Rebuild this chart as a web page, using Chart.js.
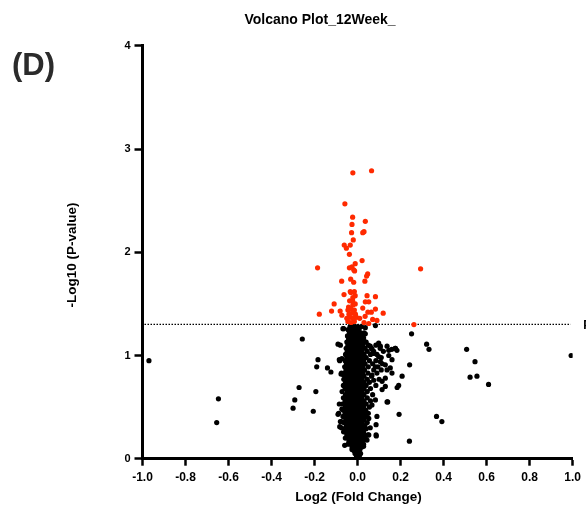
<!DOCTYPE html>
<html lang="en">
<head>
    <meta charset="UTF-8">
    <title>Volcano Plot</title>
    <style>
        html, body { margin: 0; padding: 0; background: #fff; }
        #wrap { width: 586px; height: 510px; }
    </style>
</head>
<body>
    <div id="wrap"><canvas id="volcano" width="586" height="510"></canvas></div>
    <script src="https://cdn.jsdelivr.net/npm/chart.js@4.4.1/dist/chart.umd.min.js"></script>
    <script>
        // -log10(0.05)
        const threshold = 1.301
        const xTicks = [-1.0, -0.8, -0.6, -0.4, -0.2, 0.0, 0.2, 0.4, 0.6, 0.8, 1.0]
        const yTicks = [0, 1, 2, 3, 4]

        // significant (red) points: [log2FC, -log10 p]
        const sigPoints = [
            [-0.022, 2.77], [0.065, 2.79], [-0.059, 2.47], [-0.023, 2.34], [0.036, 2.30],
            [-0.026, 2.27], [-0.028, 2.19], [0.030, 2.20], [0.024, 2.19], [-0.020, 2.12],
            [-0.034, 2.07], [-0.062, 2.07], [-0.052, 2.04], [-0.038, 1.98], [-0.186, 1.85],
            [0.293, 1.84], [0.021, 1.92], [-0.011, 1.89], [-0.026, 1.86], [-0.038, 1.85],
            [-0.018, 1.83], [-0.014, 1.82], [0.047, 1.79], [0.042, 1.77], [-0.074, 1.72],
            [-0.032, 1.74], [-0.018, 1.71], [0.034, 1.72], [-0.034, 1.62], [-0.031, 1.61],
            [-0.063, 1.59], [-0.011, 1.58], [-0.022, 1.56], [0.044, 1.58], [0.083, 1.57],
            [-0.109, 1.50], [-0.042, 1.47], [-0.022, 1.49], [-0.011, 1.50], [0.036, 1.52],
            [0.052, 1.52], [0.024, 1.46], [0.083, 1.45], [-0.121, 1.43], [-0.081, 1.43],
            [-0.178, 1.40], [-0.073, 1.39], [0.048, 1.42], [0.064, 1.42], [0.119, 1.41],
            [0.052, 1.31], [0.030, 1.32], [0.262, 1.30],
            [-0.045, 1.44], [-0.030, 1.45], [-0.015, 1.44], [-0.040, 1.40], [-0.025, 1.41],
            [-0.010, 1.40], [-0.050, 1.36], [-0.035, 1.37], [-0.020, 1.36], [-0.005, 1.37],
            [-0.045, 1.33], [-0.030, 1.32], [-0.015, 1.33], [-0.037, 1.53], [-0.023, 1.53],
            [-0.015, 1.62], [0.010, 1.36], [0.035, 1.38], [0.070, 1.35], [0.090, 1.34]
        ]

        // non-significant (black) points: [log2FC, -log10 p]
        const nsPoints = [
            // dense core, bottom to top
            [-0.005, 0.02], [0.008, 0.02],
            [-0.012, 0.05], [0.003, 0.05], [0.014, 0.05],
            [-0.018, 0.08], [-0.004, 0.08], [0.010, 0.08],
            [-0.025, 0.11], [-0.010, 0.11], [0.005, 0.11], [0.018, 0.11],
            [-0.032, 0.14], [-0.015, 0.14], [0.000, 0.14], [0.014, 0.14], [0.028, 0.14],
            [-0.040, 0.17], [-0.022, 0.17], [-0.006, 0.17], [0.010, 0.17], [0.025, 0.17],
            [-0.045, 0.20], [-0.028, 0.20], [-0.012, 0.20], [0.004, 0.20], [0.020, 0.20], [0.036, 0.20],
            [-0.050, 0.23], [-0.033, 0.23], [-0.017, 0.23], [0.000, 0.23], [0.016, 0.23], [0.032, 0.23], [0.048, 0.23],
            [-0.056, 0.26], [-0.038, 0.26], [-0.020, 0.26], [-0.004, 0.26], [0.012, 0.26], [0.028, 0.26],
            [-0.060, 0.29], [-0.043, 0.29], [-0.026, 0.29], [-0.009, 0.29], [0.008, 0.29], [0.024, 0.29], [0.040, 0.29],
            [-0.052, 0.32], [-0.035, 0.32], [-0.018, 0.32], [-0.001, 0.32], [0.016, 0.32], [0.034, 0.32],
            [-0.064, 0.35], [-0.046, 0.35], [-0.029, 0.35], [-0.012, 0.35], [0.005, 0.35], [0.022, 0.35], [0.045, 0.35],
            [-0.055, 0.38], [-0.038, 0.38], [-0.021, 0.38], [-0.004, 0.38], [0.013, 0.38], [0.030, 0.38],
            [-0.068, 0.41], [-0.047, 0.41], [-0.030, 0.41], [-0.013, 0.41], [0.004, 0.41], [0.021, 0.41], [0.040, 0.41],
            [-0.058, 0.44], [-0.040, 0.44], [-0.022, 0.44], [-0.005, 0.44], [0.012, 0.44], [0.030, 0.44], [0.050, 0.44],
            [-0.066, 0.47], [-0.049, 0.47], [-0.031, 0.47], [-0.014, 0.47], [0.003, 0.47], [0.020, 0.47], [0.038, 0.47],
            [-0.057, 0.50], [-0.040, 0.50], [-0.023, 0.50], [-0.006, 0.50], [0.011, 0.50], [0.028, 0.50], [0.055, 0.50],
            [-0.070, 0.53], [-0.048, 0.53], [-0.031, 0.53], [-0.014, 0.53], [0.003, 0.53], [0.020, 0.53], [0.040, 0.53],
            [-0.058, 0.56], [-0.040, 0.56], [-0.022, 0.56], [-0.005, 0.56], [0.012, 0.56], [0.030, 0.56], [0.060, 0.56],
            [-0.066, 0.59], [-0.049, 0.59], [-0.031, 0.59], [-0.014, 0.59], [0.003, 0.59], [0.020, 0.59], [0.045, 0.59],
            [-0.056, 0.62], [-0.039, 0.62], [-0.022, 0.62], [-0.005, 0.62], [0.012, 0.62], [0.030, 0.62], [0.070, 0.62],
            [-0.072, 0.65], [-0.048, 0.65], [-0.030, 0.65], [-0.013, 0.65], [0.004, 0.65], [0.021, 0.65], [0.045, 0.65],
            [-0.058, 0.68], [-0.040, 0.68], [-0.022, 0.68], [-0.005, 0.68], [0.012, 0.68], [0.030, 0.68], [0.060, 0.68],
            [-0.066, 0.71], [-0.048, 0.71], [-0.031, 0.71], [-0.014, 0.71], [0.003, 0.71], [0.020, 0.71], [0.040, 0.71], [0.085, 0.71],
            [-0.056, 0.74], [-0.039, 0.74], [-0.022, 0.74], [-0.005, 0.74], [0.012, 0.74], [0.030, 0.74], [0.055, 0.74],
            [-0.064, 0.77], [-0.047, 0.77], [-0.030, 0.77], [-0.013, 0.77], [0.004, 0.77], [0.021, 0.77], [0.045, 0.77], [0.100, 0.77],
            [-0.056, 0.80], [-0.038, 0.80], [-0.021, 0.80], [-0.004, 0.80], [0.013, 0.80], [0.030, 0.80], [0.065, 0.80],
            [-0.062, 0.83], [-0.045, 0.83], [-0.028, 0.83], [-0.011, 0.83], [0.006, 0.83], [0.023, 0.83], [0.048, 0.83], [0.090, 0.83],
            [-0.054, 0.86], [-0.037, 0.86], [-0.020, 0.86], [-0.003, 0.86], [0.014, 0.86], [0.032, 0.86], [0.075, 0.86], [0.110, 0.86],
            [-0.060, 0.89], [-0.043, 0.89], [-0.026, 0.89], [-0.009, 0.89], [0.008, 0.89], [0.025, 0.89], [0.050, 0.89], [0.095, 0.89],
            [-0.052, 0.92], [-0.035, 0.92], [-0.018, 0.92], [-0.001, 0.92], [0.016, 0.92], [0.035, 0.92], [0.070, 0.92], [0.115, 0.92],
            [-0.058, 0.95], [-0.041, 0.95], [-0.024, 0.95], [-0.007, 0.95], [0.010, 0.95], [0.028, 0.95], [0.055, 0.95], [0.085, 0.95],
            [-0.050, 0.98], [-0.033, 0.98], [-0.016, 0.98], [0.001, 0.98], [0.018, 0.98], [0.040, 0.98], [0.110, 0.98],
            [-0.056, 1.01], [-0.039, 1.01], [-0.022, 1.01], [-0.005, 1.01], [0.012, 1.01], [0.030, 1.01], [0.060, 1.01], [0.090, 1.01],
            [-0.048, 1.04], [-0.031, 1.04], [-0.014, 1.04], [0.003, 1.04], [0.020, 1.04], [0.045, 1.04], [0.075, 1.04], [0.120, 1.04],
            [-0.053, 1.07], [-0.036, 1.07], [-0.019, 1.07], [-0.002, 1.07], [0.015, 1.07], [0.035, 1.07], [0.065, 1.07], [0.105, 1.07],
            [-0.045, 1.10], [-0.028, 1.10], [-0.011, 1.10], [0.006, 1.10], [0.024, 1.10], [0.050, 1.10], [0.085, 1.10],
            [-0.050, 1.13], [-0.033, 1.13], [-0.016, 1.13], [0.001, 1.13], [0.018, 1.13], [0.040, 1.13],
            [-0.042, 1.16], [-0.025, 1.16], [-0.008, 1.16], [0.009, 1.16], [0.026, 1.16],
            [-0.047, 1.19], [-0.030, 1.19], [-0.013, 1.19], [0.004, 1.19], [0.021, 1.19],
            [-0.038, 1.22], [-0.021, 1.22], [-0.004, 1.22], [0.013, 1.22], [0.030, 1.22],
            [-0.044, 1.25], [-0.027, 1.25], [-0.010, 1.25], [0.007, 1.25],
            [-0.035, 1.28], [-0.018, 1.28], [0.000, 1.28], [0.018, 1.28],
            // edges of the core
            [-0.065, 1.26], [-0.091, 1.11], [-0.080, 1.10], [-0.073, 0.97], [-0.083, 0.95],
            [-0.075, 0.83], [-0.065, 0.81], [-0.085, 0.96], [-0.085, 0.53], [-0.073, 0.48],
            [-0.091, 0.43], [-0.075, 0.36], [-0.083, 0.31], [-0.065, 0.26], [-0.057, 0.20],
            [-0.045, 0.14], [-0.026, 0.09], [-0.088, 0.44], [-0.080, 0.36], [-0.075, 0.30],
            [-0.060, 0.13], [-0.077, 0.82], [-0.068, 1.26],
            [0.036, 1.27], [0.036, 1.21], [0.028, 1.17], [0.036, 1.13], [0.059, 1.09],
            [0.067, 1.06], [0.098, 1.12], [0.106, 1.09], [0.137, 1.09], [0.145, 1.05],
            [0.176, 1.07], [0.183, 1.05], [0.145, 1.00], [0.160, 0.96], [0.129, 0.91],
            [0.137, 0.86], [0.152, 0.88], [0.160, 0.83], [0.098, 0.99], [0.106, 0.94],
            [0.075, 1.02], [0.083, 0.89], [0.191, 0.71], [0.114, 0.75], [0.129, 0.78],
            [0.067, 0.81], [0.075, 0.76], [0.052, 0.39], [0.059, 0.30], [0.090, 0.41],
            [0.086, 0.33], [0.086, 0.23], [0.067, 0.52], [0.083, 0.57], [0.137, 0.55],
            [0.114, 0.67], [0.129, 0.70], [0.052, 0.23], [0.044, 0.18], [0.028, 0.12],
            [0.083, 1.29],
            // scattered outliers
            [-0.970, 0.95], [-0.647, 0.58], [-0.655, 0.35], [-0.257, 1.16], [-0.272, 0.69],
            [-0.292, 0.57], [-0.300, 0.49], [-0.206, 0.46], [-0.194, 0.65], [-0.184, 0.96],
            [-0.190, 0.89], [-0.140, 0.88], [-0.124, 0.84],
            [0.321, 1.11], [0.332, 1.06], [0.507, 1.06], [0.546, 0.94], [0.523, 0.79],
            [0.555, 0.80], [0.609, 0.72], [0.993, 1.00], [0.367, 0.41], [0.392, 0.36],
            [0.241, 0.17], [0.251, 1.21], [0.242, 0.91], [0.207, 0.80], [0.184, 0.69],
            [0.193, 0.43], [0.140, 0.55], [0.087, 0.22], [0.175, 1.07], [0.159, 1.06]
        ]

        const font = '"Liberation Sans", Arial, sans-serif'

        const annotate = {
            id: 'annotate',
            beforeDatasetsDraw(chart) {
                const { ctx, chartArea, scales } = chart
                const yT = scales.y.getPixelForValue(threshold)
                ctx.save()
                ctx.strokeStyle = '#000'
                ctx.lineWidth = 1.2
                ctx.setLineDash([1.5, 1.5])
                ctx.beginPath()
                ctx.moveTo(chartArea.left + 2, yT)
                ctx.lineTo(chartArea.right - 2, yT)
                ctx.stroke()
                ctx.restore()
            },
            afterDraw(chart) {
                const { ctx, scales } = chart
                const yT = scales.y.getPixelForValue(threshold)
                ctx.save()
                ctx.fillStyle = '#000'
                ctx.textAlign = 'center'
                ctx.textBaseline = 'middle'
                ctx.font = 'bold 14px ' + font
                ctx.fillText('Volcano Plot_12Week_', 320, 20)
                ctx.font = 'bold 13.5px ' + font
                ctx.fillText('Log2 (Fold Change)', 358.5, 497)
                ctx.save()
                ctx.translate(72.5, 255)
                ctx.rotate(-Math.PI / 2)
                ctx.fillText('-Log10 (P-value)', 0, 0)
                ctx.restore()
                ctx.fillStyle = '#2b2b2b'
                ctx.font = 'bold 31px ' + font
                ctx.textAlign = 'left'
                ctx.fillText('(D)', 12, 66)
                // threshold label, cut by the canvas edge
                ctx.fillStyle = '#000'
                ctx.font = 'bold 12px ' + font
                ctx.fillText('P', 583.2, yT + 1)
                ctx.restore()
            }
        }

        const ctx = document.getElementById('volcano')
        new Chart(ctx, {
            type: 'scatter',
            data: {
                datasets: [
                    {
                        label: 'Significant',
                        data: sigPoints.map(p => ({ x: p[0], y: p[1] })),
                        backgroundColor: '#ff2a00',
                        pointRadius: 2.6,
                        pointBorderWidth: 0
                    },
                    {
                        label: 'Not significant',
                        data: nsPoints.map(p => ({ x: p[0], y: p[1] })),
                        backgroundColor: '#000',
                        pointRadius: 2.6,
                        pointBorderWidth: 0
                    }
                ]
            },
            options: {
                responsive: false,
                animation: false,
                events: [],
                layout: { padding: { left: 0, right: 10.7, top: 45.9, bottom: 0 } },
                plugins: {
                    legend: { display: false },
                    tooltip: { enabled: false }
                },
                scales: {
                    x: {
                        type: 'linear',
                        min: -1,
                        max: 1,
                        afterFit: scale => { scale.height = 51.3 },
                        afterBuildTicks: scale => { scale.ticks = xTicks.map(v => ({ value: v })) },
                        border: { display: true, color: '#000', width: 3 },
                        grid: { drawOnChartArea: false, drawTicks: true, tickLength: 7, tickWidth: 2.5, tickColor: '#000', color: '#000' },
                        ticks: {
                            color: '#000',
                            padding: 5,
                            maxRotation: 0,
                            font: { family: font, size: 12, weight: 'bold' },
                            callback: v => (Math.abs(v) < 1e-9 ? 0 : v).toFixed(1)
                        }
                    },
                    y: {
                        type: 'linear',
                        min: 0,
                        max: 4,
                        afterFit: scale => { scale.width = 142.5 },
                        afterBuildTicks: scale => { scale.ticks = yTicks.map(v => ({ value: v })) },
                        border: { display: true, color: '#000', width: 3 },
                        grid: { drawOnChartArea: false, drawTicks: true, tickLength: 8, tickWidth: 2.5, tickColor: '#000', color: '#000' },
                        ticks: {
                            color: '#000',
                            padding: 4,
                            font: { family: font, size: 11, weight: 'bold' },
                            callback: v => String(v)
                        }
                    }
                }
            },
            plugins: [annotate]
        })
    </script>
</body>
</html>
